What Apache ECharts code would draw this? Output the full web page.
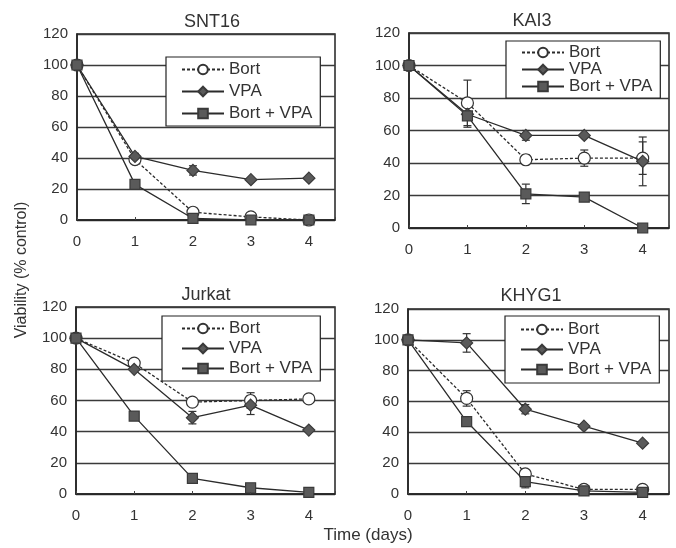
<!DOCTYPE html>
<html>
<head>
<meta charset="utf-8">
<title>Viability</title>
<script src="https://cdn.jsdelivr.net/npm/echarts@6/dist/echarts.min.js"></script>
<style>
    html, body { margin: 0; padding: 0; background: #fff; }
    #main { width: 676px; height: 548px; }
</style>
</head>
<body>
<div id="main"></div>
<script>
;!function () {
    // 数据
    var days = [0, 1, 2, 3, 4];
    var yTicks = [0, 20, 40, 60, 80, 100, 120];
    var names = ['Bort', 'VPA', 'Bort + VPA'];
    var panels = ['SNT16', 'KAI3', 'Jurkat', 'KHYG1'];

    var snt16Bort = [100, 39, 5, 2, 0];
    var snt16Vpa = [100, 41, 32, 26, 27];
    var snt16Combo = [100, 23, 1, 0, 0];
    var snt16BortErr = [0, 0, 0, 0, 0];
    var snt16VpaErr = [0, 2, 3, 0, 0];
    var snt16ComboErr = [0, 0, 0, 0, 0];

    var kai3Bort = [100, 77, 42, 43, 43];
    var kai3Vpa = [100, 70, 57, 57, 41];
    var kai3Combo = [100, 69, 21, 19, 0];
    var kai3BortErr = [0, 14, 3, 5, 10];
    var kai3VpaErr = [0, 0, 3, 0, 15];
    var kai3ComboErr = [0, 7, 6, 0, 0];

    var jurkatBort = [100, 84, 59, 60, 61];
    var jurkatVpa = [100, 80, 49, 57, 41];
    var jurkatCombo = [100, 50, 10, 4, 1];
    var jurkatBortErr = [0, 0, 0, 5, 0];
    var jurkatVpaErr = [0, 0, 4, 6, 0];
    var jurkatComboErr = [0, 0, 0, 0, 0];

    var khyg1Bort = [100, 62, 13, 3, 3];
    var khyg1Vpa = [100, 98, 55, 44, 33];
    var khyg1Combo = [100, 47, 8, 2, 1];
    var khyg1BortErr = [0, 5, 0, 0, 0];
    var khyg1VpaErr = [0, 6, 3, 0, 0];
    var khyg1ComboErr = [0, 0, 4, 0, 0];

    var values = [
        [snt16Bort, snt16Vpa, snt16Combo],
        [kai3Bort, kai3Vpa, kai3Combo],
        [jurkatBort, jurkatVpa, jurkatCombo],
        [khyg1Bort, khyg1Vpa, khyg1Combo]
    ];
    var errors = [
        [snt16BortErr, snt16VpaErr, snt16ComboErr],
        [kai3BortErr, kai3VpaErr, kai3ComboErr],
        [jurkatBortErr, jurkatVpaErr, jurkatComboErr],
        [khyg1BortErr, khyg1VpaErr, khyg1ComboErr]
    ];

    // 布局
    var grids = [
        {left: 77, top: 34, width: 258, height: 186},
        {left: 409, top: 33, width: 260, height: 195},
        {left: 76, top: 307, width: 259, height: 187},
        {left: 408, top: 309, width: 261, height: 185}
    ];
    var titlePos = [
        {x: 207, y: 8},
        {x: 527, y: 7},
        {x: 201, y: 281},
        {x: 526, y: 282}
    ];
    var legendPos = [
        {left: 166, top: 57, width: 155, gap: 5, pad: [4, 8, 4, 15]},
        {left: 506, top: 41, width: 150, gap: 0, pad: [3, 8, 3, 15]},
        {left: 162, top: 316, width: 163, gap: 3, pad: [4, 8, 4, 19]},
        {left: 505, top: 316, width: 151, gap: 3, pad: [5, 8, 5, 15]}
    ];

    var font = 'Liberation Sans, Arial, sans-serif';
    var ink = '#2b2b2b';
    var markFill = '#5a5a5a';

    var option = {
        backgroundColor: '#fff',
        animation: false,
        title: [],
        legend: [],
        grid: [],
        xAxis: [],
        yAxis: [],
        series: [],
        graphic: [
            {
                type: 'text', x: 22, y: 270, rotation: Math.PI / 2,
                style: {
                    text: 'Viability (% control)', font: '16px ' + font,
                    fill: '#333', align: 'center', verticalAlign: 'middle'
                }
            },
            {
                type: 'text', x: 368, y: 535,
                style: {
                    text: 'Time (days)', font: '17px ' + font,
                    fill: '#333', align: 'center', verticalAlign: 'middle'
                }
            }
        ]
    };

    for (var i = 0; i < panels.length; i++) {
        var g = grids[i];
        option.grid.push({
            left: g.left, top: g.top, width: g.width, height: g.height,
            show: true, borderColor: '#222', borderWidth: 1.5, backgroundColor: '#fff'
        });
        option.title.push({
            text: panels[i], left: titlePos[i].x, top: titlePos[i].y, textAlign: 'center',
            textStyle: {fontFamily: font, fontSize: 18, fontWeight: 'normal', color: '#333'}
        });
        var lp = legendPos[i];
        option.legend.push({
            data: names, orient: 'vertical', left: lp.left, top: lp.top, width: lp.width,
            itemWidth: 42, itemHeight: 12, itemGap: lp.gap, padding: lp.pad,
            backgroundColor: '#fff', borderColor: '#222', borderWidth: 1.2,
            selectedMode: false,
            textStyle: {fontFamily: font, fontSize: 17, color: '#333', lineHeight: 17},
            z: 10
        });
        option.xAxis.push({
            type: 'value', gridIndex: i, min: 0, max: 4.45, interval: 1,
            axisLine: {show: true, lineStyle: {color: '#222', width: 1.5}},
            axisTick: {show: true, inside: true, length: 3, lineStyle: {color: '#444'}},
            axisLabel: {
                margin: 14, color: '#333', fontFamily: font, fontSize: 15,
                formatter: function (v) { return days.indexOf(v) >= 0 ? String(v) : ''; }
            },
            splitLine: {show: false}
        });
        option.yAxis.push({
            type: 'value', gridIndex: i, min: yTicks[0], max: yTicks[yTicks.length - 1], interval: 20,
            axisLine: {show: true, lineStyle: {color: '#222', width: 1.5}},
            axisTick: {show: false},
            axisLabel: {margin: 9, color: '#333', fontFamily: font, fontSize: 15},
            splitLine: {show: true, lineStyle: {color: '#3a3a3a', width: 1.3}}
        });

        // 三条折线
        var symbols = ['circle', 'diamond', 'rect'];
        var sizes = [12, 12, 10];
        for (var s = 0; s < 3; s++) {
            var pts = [];
            for (var d = 0; d < days.length; d++) {
                pts.push([days[d], values[i][s][d]]);
            }
            option.series.push({
                name: names[s], type: 'line', xAxisIndex: i, yAxisIndex: i,
                data: pts, symbol: symbols[s], symbolSize: sizes[s],
                showAllSymbol: true,
                lineStyle: {color: ink, width: 1.3, type: s === 0 ? [3, 2] : 'solid'},
                itemStyle: {
                    color: s === 0 ? '#fff' : markFill,
                    borderColor: s === 0 ? '#333' : '#3a3a3a',
                    borderWidth: 1.2
                },
                z: 3 + s
            });
        }

        // 误差线
        var errData = [];
        for (var s2 = 0; s2 < 3; s2++) {
            for (var d2 = 0; d2 < days.length; d2++) {
                if (errors[i][s2][d2] > 0) {
                    errData.push([days[d2], values[i][s2][d2], errors[i][s2][d2]]);
                }
            }
        }
        option.series.push({
            type: 'custom', xAxisIndex: i, yAxisIndex: i, data: errData, z: 2,
            renderItem: function (params, api) {
                var x = api.value(0), y = api.value(1), e = api.value(2);
                var top = api.coord([x, y + e]);
                var bot = api.coord([x, y - e]);
                var w = 4;
                var st = {stroke: '#333', lineWidth: 1.2};
                return {
                    type: 'group',
                    children: [
                        {type: 'line', shape: {x1: top[0], y1: top[1], x2: bot[0], y2: bot[1]}, style: st},
                        {type: 'line', shape: {x1: top[0] - w, y1: top[1], x2: top[0] + w, y2: top[1]}, style: st},
                        {type: 'line', shape: {x1: bot[0] - w, y1: bot[1], x2: bot[0] + w, y2: bot[1]}, style: st}
                    ]
                };
            }
        });
    }

    var myChart = echarts.init(document.getElementById('main'));
    myChart.setOption(option);
}()
</script>
</body>
</html>
